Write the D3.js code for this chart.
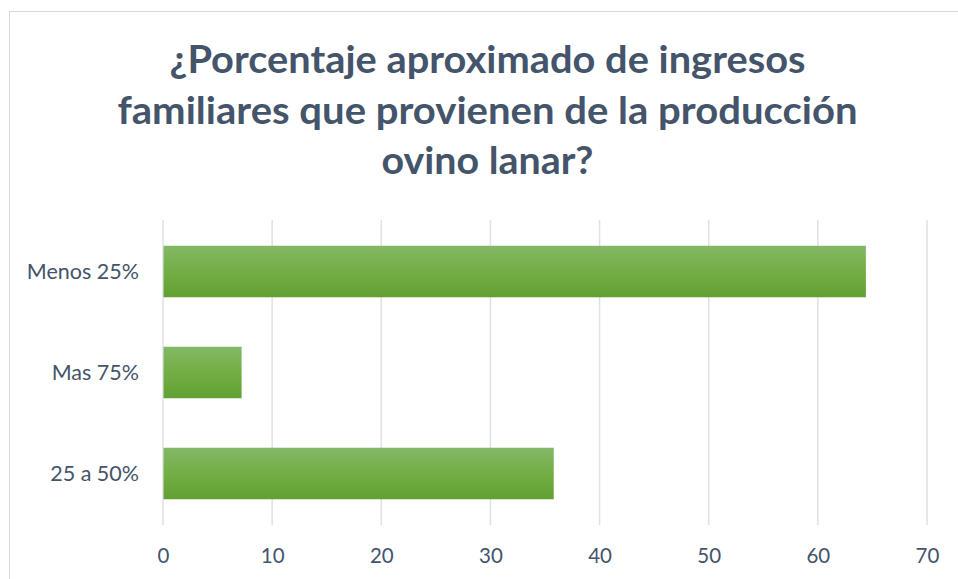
<!DOCTYPE html>
<html>
<head>
<meta charset="utf-8">
<script src="https://cdn.jsdelivr.net/npm/d3@7"></script>
<style>
  html, body { margin: 0; padding: 0; background: #ffffff; }
  svg { display: block; }
</style>
</head>
<body>
<svg id="chart" width="958" height="579"></svg>
<script>
const titleLines = [
  "¿Porcentaje aproximado de ingresos",
  "familiares que provienen de la producción",
  "ovino lanar?"
];
const categories = ["Menos 25%", "Mas 75%", "25 a 50%"];
const values = [64.4, 7.2, 35.8];
const xTicks = [0, 10, 20, 30, 40, 50, 60, 70];

const svg = d3.select("#chart");
const W = 958, H = 579;

// chart frame
svg.append("rect")
  .attr("x", 9.5).attr("y", 11.5)
  .attr("width", W + 20).attr("height", H + 20)
  .attr("fill", "#ffffff")
  .attr("stroke", "#d9d9d9").attr("stroke-width", 1);

// gradient
const defs = svg.append("defs");
const grad = defs.append("linearGradient")
  .attr("id", "barGrad").attr("x1", 0).attr("y1", 0).attr("x2", 0).attr("y2", 1);
grad.append("stop").attr("offset", "0%").attr("stop-color", "#84b866");
grad.append("stop").attr("offset", "50%").attr("stop-color", "#72ae45");
grad.append("stop").attr("offset", "100%").attr("stop-color", "#61a033");

// title
const titleWidths = [636, 740, 212];
const titleG = svg.append("g");
titleLines.forEach((t, i) => {
  titleG.append("text")
    .attr("x", 487.5)
    .attr("y", 73 + i * 50.5)
    .attr("text-anchor", "middle")
    .attr("font-family", "Lato, 'Open Sans', sans-serif")
    .attr("font-weight", 700)
    .attr("font-size", 38)
    .attr("fill", "#44546a")
    .attr("textLength", titleWidths[i])
    .attr("lengthAdjust", "spacingAndGlyphs")
    .text(t);
});

// scales
const plot = { left: 163, right: 927, top: 220, bottom: 525 };
const x = d3.scaleLinear().domain([0, 70]).range([plot.left, plot.right]);
const y = d3.scaleBand().domain(categories)
  .range([plot.top, plot.bottom])
  .paddingInner(0.49).paddingOuter(0.255);

// gridlines
svg.append("g")
  .selectAll("line")
  .data(xTicks)
  .join("line")
  .attr("x1", d => x(d)).attr("x2", d => x(d))
  .attr("y1", plot.top).attr("y2", plot.bottom)
  .attr("stroke", "#dde1e8").attr("stroke-width", 1.5);

// bars
svg.append("g")
  .selectAll("rect")
  .data(categories)
  .join("rect")
  .attr("x", x(0) + 0.5)
  .attr("y", d => y(d))
  .attr("width", (d, i) => x(values[i]) - x(0) - 0.5)
  .attr("height", y.bandwidth())
  .attr("fill", "url(#barGrad)");

// x axis labels
const xAxis = d3.axisBottom(x).tickValues(xTicks).tickSize(0).tickPadding(0).tickFormat(d3.format("d"));
const xg = svg.append("g").attr("transform", `translate(0,${plot.bottom})`).call(xAxis);
xg.select(".domain").remove();
xg.selectAll("text")
  .attr("dy", null)
  .attr("y", 38)
  .attr("font-family", "Lato, 'Open Sans', sans-serif")
  .attr("font-size", 20.5)
  .attr("fill", "#44546a");

// y axis labels
const yAxis = d3.axisLeft(y).tickSize(0).tickPadding(0);
const yg = svg.append("g").attr("transform", `translate(139,0)`).call(yAxis);
yg.select(".domain").remove();
yg.selectAll("text")
  .attr("dy", "0.35em")
  .attr("font-family", "Lato, 'Open Sans', sans-serif")
  .attr("font-size", 21.5)
  .attr("fill", "#44546a");
</script>
</body>
</html>
